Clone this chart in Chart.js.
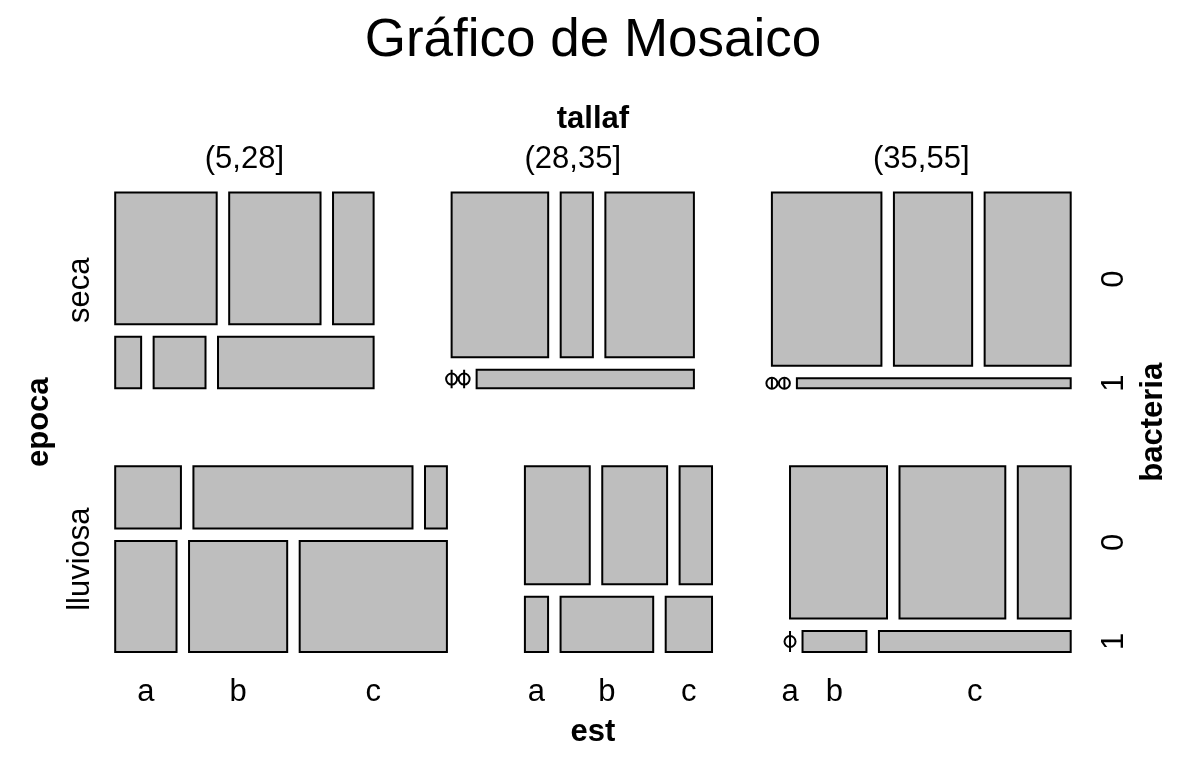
<!DOCTYPE html>
<html><head><meta charset="utf-8">
<script src="https://cdn.jsdelivr.net/npm/chart.js@4.4.1/dist/chart.umd.min.js"></script>
<style>html,body{margin:0;padding:0;background:#fff;} #wrap{width:1186px;height:768px;position:relative;}</style>
</head><body><div id="wrap"><canvas id="c"></canvas></div>
<script>
// ---- data ----
const epocaLevels = ['seca', 'lluviosa'];
const tallafLevels = ['(5,28]', '(28,35]', '(35,55]'];
const bacteriaLevels = ['0', '1'];
const estLevels = ['a', 'b', 'c'];
// counts: one row per tallaf level, columns = est a, b, c
const secaBacteria0 = [[10, 9, 4], [12, 4, 11], [14, 10, 11]];
const secaBacteria1 = [[1, 2, 6], [0, 0, 3], [0, 0, 2]];
const lluviosaBacteria0 = [[3, 10, 1], [6, 6, 3], [11, 12, 6]];
const lluviosaBacteria1 = [[5, 8, 12], [1, 4, 2], [0, 1, 3]];

const counts = [[secaBacteria0, secaBacteria1], [lluviosaBacteria0, lluviosaBacteria1]]; // [epoca][bacteria][tallaf][est]

// ---- layout (mosaic units) ----
const W = 955.5, H = 459.5, GAP_OUT = 78, GAP_IN = 12.5;
const FONT = "'Liberation Sans', Arial, Helvetica, sans-serif";

const sum = a => a.reduce((p, q) => p + q, 0);
function split(start, size, values, gap) {
  const total = sum(values);
  const avail = size - gap * (values.length - 1);
  const out = []; let pos = start;
  values.forEach(v => { const s = total > 0 ? avail * v / total : 0; out.push([pos, pos + s]); pos += s + gap; });
  return out;
}

const epocaTotals = epocaLevels.map((_, e) => sum(counts[e].map(bm => sum(bm.map(sum)))));
const rowsY = split(0, H, epocaTotals, GAP_OUT);
const cells = [];
const topLab = [], leftLab = [], rightLab = [], bottomLab = [];
epocaLevels.forEach((eName, e) => {
  const tallafTotals = tallafLevels.map((_, t) => sum(bacteriaLevels.map((_, b) => sum(counts[e][b][t]))));
  const colsX = split(0, W, tallafTotals, GAP_OUT);
  leftLab.push({text: eName, pos: (rowsY[e][0] + rowsY[e][1]) / 2});
  tallafLevels.forEach((tName, t) => {
    if (e === 0) topLab.push({text: tName, pos: (colsX[t][0] + colsX[t][1]) / 2});
    const bTot = bacteriaLevels.map((_, b) => sum(counts[e][b][t]));
    const ys = split(rowsY[e][0], rowsY[e][1] - rowsY[e][0], bTot, GAP_IN);
    bacteriaLevels.forEach((bName, b) => {
      if (t === tallafLevels.length - 1) rightLab.push({text: bName, pos: (ys[b][0] + ys[b][1]) / 2});
      const xs = split(colsX[t][0], colsX[t][1] - colsX[t][0], counts[e][b][t], GAP_IN);
      estLevels.forEach((sName, s) => {
        cells.push({x0: xs[s][0], x1: xs[s][1], y0: ys[b][0], y1: ys[b][1], n: counts[e][b][t][s]});
        if (e === epocaLevels.length - 1 && b === bacteriaLevels.length - 1)
          bottomLab.push({text: sName, pos: (xs[s][0] + xs[s][1]) / 2});
      });
    });
  });
});

const datasets = cells.map(c => {
  if (c.n > 0) {
    return {
      data: [{x: c.x0, y: c.y0}, {x: c.x1, y: c.y0}, {x: c.x1, y: c.y1}, {x: c.x0, y: c.y1}, {x: c.x0, y: c.y0}],
      showLine: true, fill: 'shape', backgroundColor: '#BEBEBE', borderColor: '#000000',
      borderWidth: 2, borderJoinStyle: 'miter', borderCapStyle: 'square', pointRadius: 0, tension: 0, clip: false
    };
  }
  return {
    data: [{x: c.x0, y: c.y0}, {x: c.x0, y: (c.y0 + c.y1) / 2}, {x: c.x0, y: c.y1}],
    showLine: true, fill: false, borderColor: '#000000', borderWidth: 2, tension: 0, clip: false,
    pointRadius: [0, 5.5, 0], pointBorderWidth: 2, pointBorderColor: '#000000',
    pointBackgroundColor: 'rgba(0,0,0,0)', pointStyle: 'circle'
  };
});

const labelPlugin = {
  id: 'mosaicLabels',
  afterDraw(chart) {
    const ctx = chart.ctx, sx = chart.scales.x, sy = chart.scales.y;
    ctx.save();
    ctx.fillStyle = '#000';
    ctx.textAlign = 'center';
    ctx.textBaseline = 'alphabetic';
    const plain = '31px ' + FONT, bold = 'bold 31px ' + FONT;
    ctx.font = plain;
    topLab.forEach(l => ctx.fillText(l.text, sx.getPixelForValue(l.pos), 168));
    bottomLab.forEach(l => ctx.fillText(l.text, sx.getPixelForValue(l.pos), 701));
    ctx.font = bold;
    ctx.fillText('tallaf', sx.getPixelForValue(W / 2), 128);
    ctx.fillText('est', sx.getPixelForValue(W / 2), 741);
    const vtext = (txt, x, y, f) => { ctx.save(); ctx.font = f; ctx.translate(x, y); ctx.rotate(-Math.PI / 2); ctx.fillText(txt, 0, 0); ctx.restore(); };
    leftLab.forEach(l => vtext(l.text, 89, sy.getPixelForValue(l.pos), plain));
    rightLab.forEach(l => vtext(l.text, 1123, sy.getPixelForValue(l.pos), plain));
    vtext('epoca', 48, sy.getPixelForValue(H / 2), bold);
    vtext('bacteria', 1162, sy.getPixelForValue(H / 2), bold);
    ctx.restore();
  }
};

new Chart(document.getElementById('c'), {
  type: 'scatter',
  data: {datasets},
  options: {
    responsive: true, maintainAspectRatio: false, animation: false, events: [],
    layout: {padding: {left: 115.2, right: 115.3, top: 0, bottom: 116}},
    scales: {
      x: {type: 'linear', min: 0, max: W, display: false},
      y: {type: 'linear', min: 0, max: H, reverse: true, display: false}
    },
    plugins: {
      legend: {display: false}, tooltip: {enabled: false},
      title: {display: true, text: 'Gráfico de Mosaico', color: '#000',
        font: {family: FONT, size: 53, weight: 'normal', lineHeight: 1.2},
        padding: {top: 10, bottom: 118.9}}
    }
  },
  plugins: [labelPlugin]
});
</script></body></html>
